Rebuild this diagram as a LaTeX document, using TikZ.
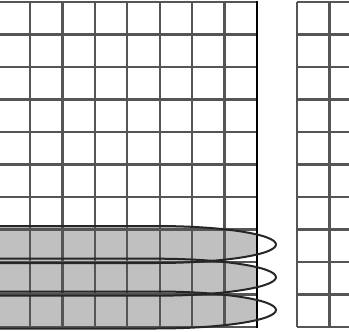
\documentclass[tikz,border=0pt]{standalone}
\definecolor{gridc}{HTML}{555555}
\definecolor{bandfill}{HTML}{C0C0C0}
\definecolor{bandline}{HTML}{262626}
\tikzset{
  gridline/.style={draw=gridc, line width=2.3pt},
  edgeline/.style={draw=black, line width=1.5pt},
  bandshape/.style={fill=bandfill},
  bandedge/.style={draw=bandline, line width=2pt},
}
\begin{document}
\begin{tikzpicture}[x=1pt,y=-1pt]
\useasboundingbox (0,0) rectangle (349,332);
\clip (0,0) rectangle (349,332);
% gray bands (fill clipped to the left grid)
\begin{scope}
  \clip (-2.3,2) rectangle (256.9,327);
  \foreach \c in {244.5,277.2,310} {
    \fill[bandshape] (-60,{\c-18.5}) -- (156,{\c-18.5})
      arc[start angle=-90, end angle=90, x radius=120, y radius=18.5]
      -- (-60,{\c+18.5}) -- cycle;
  }
\end{scope}
% left grid
\foreach \i in {0,...,7} \draw[gridline] ({-2.3+\i*32.4},2) -- ({-2.3+\i*32.4},327);
\foreach \j in {0,...,10} \draw[gridline] (-2.3,{2+\j*32.5}) -- (256.9,{2+\j*32.5});
\draw[edgeline] (256.9,1) -- (256.9,328);
% right grid
\foreach \i in {0,...,2} \draw[gridline] ({297+\i*32.4},2) -- ({297+\i*32.4},327);
\foreach \j in {0,...,10} \draw[gridline] (297,{2+\j*32.5}) -- (360,{2+\j*32.5});
% band outlines
\foreach \c in {244.5,277.2,310} {
  \draw[bandedge] (-60,{\c-18.5}) -- (156,{\c-18.5})
    arc[start angle=-90, end angle=90, x radius=120, y radius=18.5]
    -- (-60,{\c+18.5});
}
\end{tikzpicture}
\end{document}
